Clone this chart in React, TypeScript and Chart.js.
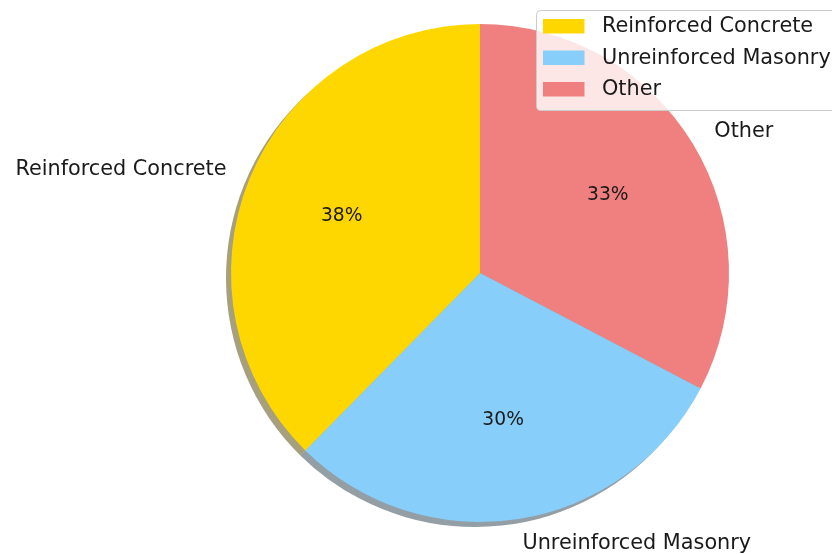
import React, { useEffect, useRef } from "react";
import { Chart, registerables } from "chart.js";

Chart.register(...registerables);

const categories = ["Reinforced Concrete", "Unreinforced Masonry", "Other"];
const values = [38, 30, 33];
const colors = ["#FFD700", "#87CEFA", "#F08080"];

const FONT = '"DejaVu Sans", "Liberation Sans", sans-serif';

function hexToRgb(h: string) {
  const n = parseInt(h.slice(1), 16);
  return [(n >> 16) & 255, (n >> 8) & 255, n & 255];
}
function shadowColor(h: string) {
  const [r, g, b] = hexToRgb(h);
  return `rgba(${Math.round(r * 0.3)},${Math.round(g * 0.3)},${Math.round(b * 0.3)},0.5)`;
}

export default function App() {
  const ref = useRef<HTMLCanvasElement | null>(null);
  useEffect(() => {
    document.body.style.margin = "0";
    const canvas = ref.current!;
    // matplotlib draws counter-clockwise from the top; Chart.js draws clockwise,
    // so feed the series in reverse order.
    const order = categories.map((_, i) => categories.length - 1 - i);
    const total = values.reduce((a, b) => a + b, 0);

    const piePlugin = {
      id: "mplPie",
      beforeDatasetsDraw(chart: any) {
        const ctx = chart.ctx;
        const meta = chart.getDatasetMeta(0);
        ctx.save();
        meta.data.forEach((arc: any, i: number) => {
          const p = arc.getProps(["x", "y", "startAngle", "endAngle", "outerRadius"], true);
          const ox = p.x - 5, oy = p.y + 5;
          ctx.beginPath();
          ctx.moveTo(ox, oy);
          ctx.arc(ox, oy, p.outerRadius, p.startAngle, p.endAngle);
          ctx.closePath();
          ctx.fillStyle = shadowColor(colors[order[i]]);
          ctx.fill();
        });
        ctx.restore();
      },
      afterDatasetsDraw(chart: any) {
        const ctx = chart.ctx;
        const meta = chart.getDatasetMeta(0);
        ctx.save();
        ctx.fillStyle = "#1a1a1a";
        ctx.textBaseline = "middle";
        meta.data.forEach((arc: any, i: number) => {
          const p = arc.getProps(["x", "y", "startAngle", "endAngle", "outerRadius"], true);
          const mid = (p.startAngle + p.endAngle) / 2;
          const c = Math.cos(mid), s = Math.sin(mid);
          const idx = order[i];
          // outer label
          ctx.font = `20.8px ${FONT}`;
          ctx.textAlign = c < 0 ? "right" : "left";
          ctx.fillText(categories[idx], p.x + 1.1 * p.outerRadius * c, p.y + 1.1 * p.outerRadius * s);
          // percentage
          ctx.font = `18.7px ${FONT}`;
          ctx.textAlign = "center";
          const pct = Math.round((values[idx] / total) * 100) + "%";
          ctx.fillText(pct, p.x + 0.6 * p.outerRadius * c, p.y + 0.6 * p.outerRadius * s);
        });
        ctx.restore();
      },
      afterDraw(chart: any) {
        const ctx = chart.ctx;
        ctx.save();
        // legend box
        const bx = 536.5, by = 10.5, bw = 310, bh = 100, r = 4;
        ctx.beginPath();
        ctx.moveTo(bx + r, by);
        ctx.lineTo(bx + bw - r, by);
        ctx.arcTo(bx + bw, by, bx + bw, by + r, r);
        ctx.lineTo(bx + bw, by + bh - r);
        ctx.arcTo(bx + bw, by + bh, bx + bw - r, by + bh, r);
        ctx.lineTo(bx + r, by + bh);
        ctx.arcTo(bx, by + bh, bx, by + bh - r, r);
        ctx.lineTo(bx, by + r);
        ctx.arcTo(bx, by, bx + r, by, r);
        ctx.closePath();
        ctx.fillStyle = "rgba(255,255,255,0.8)";
        ctx.fill();
        ctx.strokeStyle = "#cccccc";
        ctx.lineWidth = 1;
        ctx.stroke();
        ctx.font = `20.8px ${FONT}`;
        ctx.textAlign = "left";
        ctx.textBaseline = "middle";
        categories.forEach((name, i) => {
          const cy = 26 + i * 31.5;
          ctx.fillStyle = colors[i];
          ctx.fillRect(543, cy - 7, 41.5, 14.5);
          ctx.fillStyle = "#1a1a1a";
          ctx.fillText(name, 602, cy + 1);
        });
        ctx.restore();
      },
    };

    const chart = new Chart(canvas, {
      type: "pie",
      data: {
        labels: order.map((i) => categories[i]),
        datasets: [
          {
            data: order.map((i) => values[i]),
            backgroundColor: order.map((i) => colors[i]),
            borderWidth: 0,
          },
        ],
      },
      options: {
        animation: false,
        responsive: false,
        devicePixelRatio: 1,
        layout: { padding: { left: 128, right: 0, top: 24, bottom: 32 } },
        plugins: {
          legend: { display: false },
          tooltip: { enabled: false },
          title: { display: false },
        },
      },
      plugins: [piePlugin],
    });
    return () => chart.destroy();
  }, []);
  return (
    <div style={{ width: 832, height: 554, background: "#fff" }}>
      <canvas ref={ref} width={832} height={554} style={{ display: "block" }} />
    </div>
  );
}
